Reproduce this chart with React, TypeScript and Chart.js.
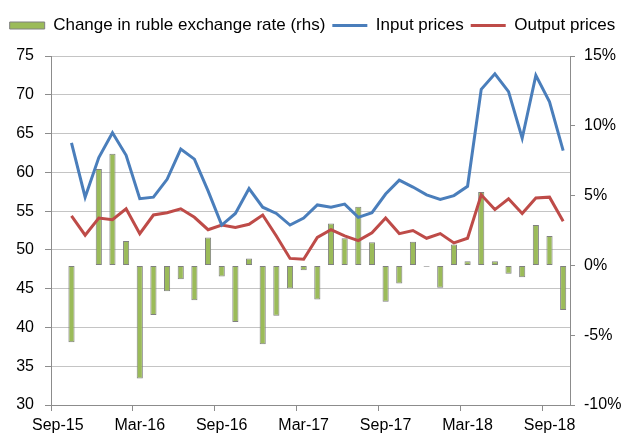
import React, { useEffect, useRef } from "react";
import { Chart, registerables } from "chart.js";

Chart.register(...registerables);

const monthLabels = [
  "Sep-15", "Oct-15", "Nov-15", "Dec-15", "Jan-16", "Feb-16", "Mar-16", "Apr-16", "May-16", "Jun-16",
  "Jul-16", "Aug-16", "Sep-16", "Oct-16", "Nov-16", "Dec-16", "Jan-17", "Feb-17", "Mar-17", "Apr-17",
  "May-17", "Jun-17", "Jul-17", "Aug-17", "Sep-17", "Oct-17", "Nov-17", "Dec-17", "Jan-18", "Feb-18",
  "Mar-18", "Apr-18", "May-18", "Jun-18", "Jul-18", "Aug-18", "Sep-18", "Oct-18",
];

// Oct-15 .. Oct-18
const rubleChange = [
  -5.5, 0, 6.9, 8.0, 1.75, -8.1, -3.55, -1.85, -1.0, -2.5,
  2.0, -0.8, -4.05, 0.5, -5.65, -3.6, -1.65, -0.35, -2.45, 3.0,
  1.95, 4.2, 1.65, -2.6, -1.3, 1.7, -0.1, -1.6, 1.5, 0.3,
  5.25, 0.3, -0.6, -0.85, 2.9, 2.1, -3.2,
];

const inputPrices = [
  63.8, 56.8, 61.9, 65.1, 62.2, 56.6, 56.8, 59.1, 63.0, 61.7,
  57.6, 53.2, 54.7, 57.9, 55.5, 54.7, 53.2, 54.1, 55.8, 55.5,
  55.9, 54.2, 54.8, 57.2, 59.0, 58.1, 57.1, 56.5, 57.0, 58.2,
  70.7, 72.7, 70.4, 64.4, 72.5, 69.1, 62.8,
];

const outputPrices = [
  54.4, 51.9, 54.1, 53.9, 55.3, 52.1, 54.5, 54.8, 55.3, 54.2,
  52.6, 53.2, 52.9, 53.3, 54.5, 51.8, 48.9, 48.8, 51.6, 52.6,
  51.8, 51.2, 52.2, 54.1, 52.1, 52.5, 51.5, 52.1, 50.9, 51.5,
  57.1, 55.2, 56.6, 54.7, 56.7, 56.8, 53.7,
];

const seriesNames = ["Change in ruble exchange rate (rhs)", "Input prices", "Output prices"];

const axisColor = "#8c8c8c";
const gridColor = "#c4c4c4";
const textColor = "#000000";
const fontFamily = "'Liberation Sans', Arial, sans-serif";

const legendSpacing = {
  id: "legendSpacing",
  beforeInit(chart: any) {
    const legend = chart.legend;
    if (!legend) return;
    const origFit = legend.fit;
    legend.fit = function () {
      origFit.call(this);
      this.height += 12;
    };
  },
};

export default function App() {
  const canvasRef = useRef<HTMLCanvasElement | null>(null);

  useEffect(() => {
    if (!canvasRef.current) return;
    const tickFont = { family: fontFamily, size: 16 };
    const legendFont = { family: fontFamily, size: 17 };
    const chart = new Chart(canvasRef.current, {
      data: {
        labels: monthLabels,
        datasets: [
          {
            type: "bar",
            label: seriesNames[0],
            data: [null, ...rubleChange],
            yAxisID: "y1",
            backgroundColor: "#9BBB59",
            borderColor: "#808080",
            borderWidth: 1,
            borderSkipped: false,
            barPercentage: 0.45,
            categoryPercentage: 1,
            order: 3,
          },
          {
            type: "line",
            label: seriesNames[1],
            data: [null, ...inputPrices],
            yAxisID: "y",
            borderColor: "#4A7EBB",
            backgroundColor: "#4A7EBB",
            borderWidth: 3,
            pointRadius: 0,
            tension: 0,
            fill: false,
            order: 1,
          },
          {
            type: "line",
            label: seriesNames[2],
            data: [null, ...outputPrices],
            yAxisID: "y",
            borderColor: "#BE4B48",
            backgroundColor: "#BE4B48",
            borderWidth: 3,
            pointRadius: 0,
            tension: 0,
            fill: false,
            order: 2,
          },
        ],
      } as any,
      options: {
        responsive: false,
        animation: false,
        devicePixelRatio: 1,
        layout: { padding: { top: 10, left: 0, right: 0, bottom: 0 } },
        plugins: {
          tooltip: { enabled: false },
          legend: {
            position: "top",
            labels: {
              font: legendFont,
              color: textColor,
              usePointStyle: true,
              pointStyleWidth: 35,
              boxHeight: 7,
              padding: 7,
              sort: (a: any, b: any) => a.datasetIndex - b.datasetIndex,
              generateLabels: (ch: any) => {
                const items = Chart.defaults.plugins.legend.labels.generateLabels(ch);
                return items.map((it: any) => ({
                  ...it,
                  pointStyle: it.datasetIndex === 0 ? "rect" : "line",
                }));
              },
            },
          },
        },
        scales: {
          x: {
            type: "category",
            offset: true,
            grid: {
              offset: true,
              drawOnChartArea: false,
              drawTicks: true,
              tickLength: 6,
              tickColor: (ctx: any) => (ctx.index % 6 === 0 ? axisColor : "rgba(0,0,0,0)"),
            },
            border: { color: axisColor, width: 1 },
            ticks: {
              autoSkip: false,
              maxRotation: 0,
              minRotation: 0,
              padding: 5,
              font: tickFont,
              color: textColor,
              callback: (_v: any, i: number) => (i % 6 === 0 ? monthLabels[i] : ""),
            },
            afterFit: (s: any) => {
              s.height = 29;
            },
          },
          y: {
            type: "linear",
            position: "left",
            min: 30,
            max: 75,
            ticks: { stepSize: 5, font: tickFont, color: textColor, padding: 11 },
            grid: { color: gridColor, tickColor: axisColor, tickLength: 6 },
            border: { color: axisColor, width: 1 },
            afterFit: (s: any) => {
              s.width = 51;
            },
          },
          y1: {
            type: "linear",
            position: "right",
            min: -10,
            max: 15,
            ticks: {
              stepSize: 5,
              font: tickFont,
              color: textColor,
              padding: 9,
              callback: (v: any) => `${v}%`,
            },
            grid: { drawOnChartArea: false, tickColor: axisColor, tickLength: 5 },
            border: { color: axisColor, width: 1 },
            afterFit: (s: any) => {
              s.width = 55;
            },
          },
        },
      } as any,
      plugins: [legendSpacing],
    });
    return () => chart.destroy();
  }, []);

  return (
    <div style={{ position: "absolute", left: 0, top: 0, width: 625, height: 434, background: "#fff" }}>
      <canvas ref={canvasRef} width={625} height={434} style={{ width: 625, height: 434 }} />
    </div>
  );
}
